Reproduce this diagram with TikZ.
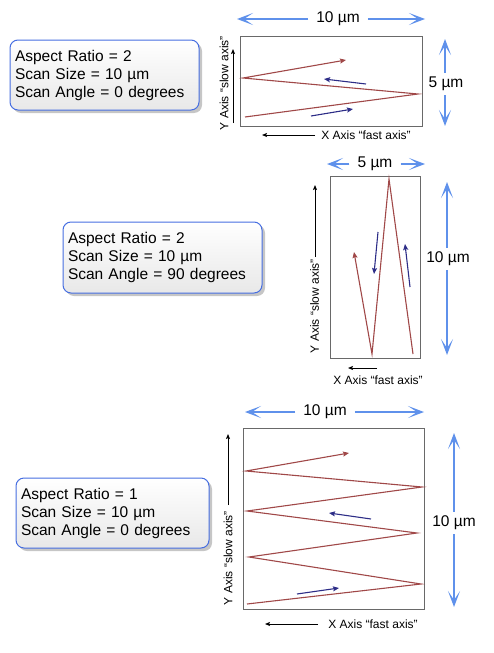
\documentclass[tikz,border=0pt]{standalone}
\usepackage{fontspec}
\setmainfont{Liberation Sans}
\usetikzlibrary{arrows.meta,shadows}
\definecolor{zig}{RGB}{160,72,72}
\definecolor{navyarr}{RGB}{45,45,135}
\definecolor{dimblue}{RGB}{95,145,235}
\definecolor{boxblue}{RGB}{70,110,225}
\definecolor{framegray}{RGB}{105,105,105}
\begin{document}
\begin{tikzpicture}[x=1pt,y=-1pt,
  infobox/.style={draw=boxblue, line width=1pt, rounded corners=8pt,
    top color=white, bottom color=gray!18,
    drop shadow={shadow xshift=3pt,shadow yshift=-3pt,fill=gray!45,opacity=1},
    align=left, font=\fontsize{15.5}{18}\selectfont, inner xsep=5pt, inner ysep=0pt},
  scanframe/.style={draw=framegray, line width=1pt, inner sep=0pt, outer sep=0pt},
  zigline/.style={draw=zig, line width=1.1pt, line join=miter},
  zigtip/.style={-{Stealth[length=6pt,width=5pt,inset=1pt]}},
  navyline/.style={draw=navyarr, line width=1.1pt, -{Stealth[length=6pt,width=5pt,inset=1pt]}},
  dimlabel/.style={font=\fontsize{15.5}{18}\selectfont, inner xsep=8pt, inner ysep=4pt},
  dimarrow/.style={draw=dimblue, fill=dimblue, line width=1.3pt, -{Stealth[length=16pt,width=12pt,inset=9pt]}},
  axislabel/.style={font=\fontsize{12}{14}\selectfont, inner sep=1pt},
  axisarrow/.style={draw=black, line width=0.9pt, -{Stealth[length=5pt,width=4pt,inset=1pt]}}
]
\useasboundingbox (0,0) rectangle (493,653);

% ================= TOP =================
\node[infobox, text width=179pt, minimum width=189pt, minimum height=70pt] (b1) at (104.5,75)
  {Aspect Ratio = 2\\Scan Size = 10 µm\\Scan Angle = 0 degrees};
\node[scanframe, minimum width=182pt, minimum height=90pt] (r1) at (331,81) {};
\draw[zigline, zigtip] (245,117) -- (418,94) -- (243,78) -- (346,60);
\draw[navyline] (366,84) -- (324,79);
\draw[navyline] (311,116) -- (353,109);
% dims
\node[dimlabel] (d1t) at (338,19) {10 µm};
\coordinate (d1tl) at (237,19); \coordinate (d1tr) at (425,19);
\draw[dimarrow] (d1t) -- (d1tl);
\draw[dimarrow] (d1t) -- (d1tr);
\node[dimlabel] (d1r) at (446,84) {5 µm};
\coordinate (d1ru) at (445,39); \coordinate (d1rd) at (445,126);
\draw[dimarrow] (d1r.north -| d1ru) -- (d1ru);
\draw[dimarrow] (d1r.south -| d1rd) -- (d1rd);
% axes
\node[axislabel, rotate=90] (ya1) at (224,83) {Y Axis “slow axis”};
\coordinate (ya1s) at (233,123); \coordinate (ya1e) at (233,49);
\draw[axisarrow] (ya1s) -- (ya1e);
\node[axislabel] (xa1) at (366,135) {X Axis “fast axis”};
\coordinate (xa1s) at (315,135); \coordinate (xa1e) at (262,135);
\draw[axisarrow] (xa1s) -- (xa1e);

% ================= MIDDLE =================
\node[infobox, text width=189pt, minimum width=199pt, minimum height=71pt] (b2) at (162.5,257.5)
  {Aspect Ratio = 2\\Scan Size = 10 µm\\Scan Angle = 90 degrees};
\node[scanframe, minimum width=90pt, minimum height=182pt] (r2) at (375,267) {};
\draw[zigline, zigtip] (413,354) -- (389,179) -- (372,354) -- (354,252);
\draw[navyline] (378,232) -- (374,274);
\draw[navyline] (410,287) -- (405,244);
% dims
\node[dimlabel] (d2t) at (375,164) {5 µm};
\coordinate (d2tl) at (327,164); \coordinate (d2tr) at (425,164);
\draw[dimarrow] (d2t) -- (d2tl);
\draw[dimarrow] (d2t) -- (d2tr);
\node[dimlabel] (d2r) at (448,259) {10 µm};
\coordinate (d2ru) at (447,182); \coordinate (d2rd) at (447,355);
\draw[dimarrow] (d2r.north -| d2ru) -- (d2ru);
\draw[dimarrow] (d2r.south -| d2rd) -- (d2rd);
% axes
\node[axislabel, rotate=90] (ya2) at (314.5,306) {Y Axis “slow axis”};
\coordinate (ya2s) at (315,257); \coordinate (ya2e) at (315,185);
\draw[axisarrow] (ya2s) -- (ya2e);
\node[axislabel] (xa2) at (378,380) {X Axis “fast axis”};
\coordinate (xa2s) at (377,368); \coordinate (xa2e) at (348,368);
\draw[axisarrow] (xa2s) -- (xa2e);

% ================= BOTTOM =================
\node[infobox, text width=183pt, minimum width=193pt, minimum height=70pt] (b3) at (112.5,513)
  {Aspect Ratio = 1\\Scan Size = 10 µm\\Scan Angle = 0 degrees};
\node[scanframe, minimum width=181pt, minimum height=181pt] (r3) at (333.5,518.5) {};
\draw[zigline, zigtip] (247,604) -- (421,584) -- (249,557) -- (417,533) -- (247,511) -- (422,487) -- (246,471) -- (349,453);
\draw[navyline] (371,519) -- (329,513);
\draw[navyline] (297,594) -- (339,588);
% dims
\node[dimlabel] (d3t) at (325,412) {10 µm};
\coordinate (d3tl) at (245,412); \coordinate (d3tr) at (424,412);
\draw[dimarrow] (d3t) -- (d3tl);
\draw[dimarrow] (d3t) -- (d3tr);
\node[dimlabel] (d3r) at (454,523) {10 µm};
\coordinate (d3ru) at (454,433); \coordinate (d3rd) at (454,607);
\draw[dimarrow] (d3r.north -| d3ru) -- (d3ru);
\draw[dimarrow] (d3r.south -| d3rd) -- (d3rd);
% axes
\node[axislabel, rotate=90] (ya3) at (228,558) {Y Axis “slow axis”};
\coordinate (ya3s) at (228,505); \coordinate (ya3e) at (228,434);
\draw[axisarrow] (ya3s) -- (ya3e);
\node[axislabel] (xa3) at (373,624) {X Axis “fast axis”};
\coordinate (xa3s) at (318,624); \coordinate (xa3e) at (265,624);
\draw[axisarrow] (xa3s) -- (xa3e);
\end{tikzpicture}
\end{document}
